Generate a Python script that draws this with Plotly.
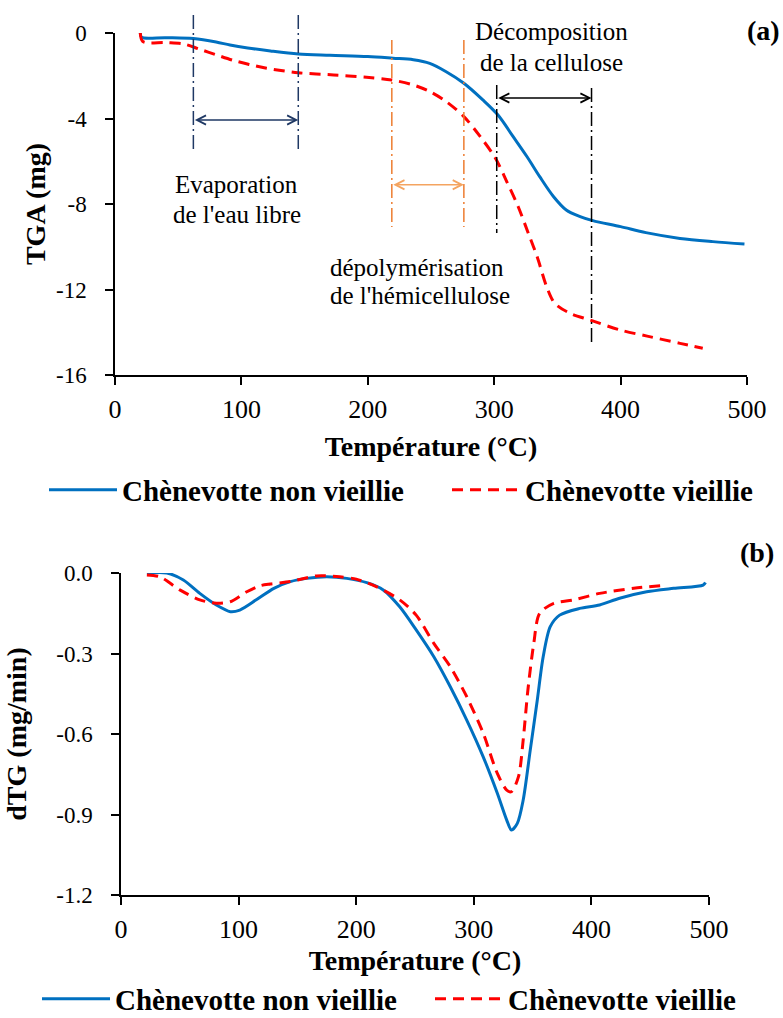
import plotly.graph_objects as go

# ---------------- data ----------------
T_tga_nv = [20, 21, 40, 62, 80, 91, 105, 123, 145, 170, 200, 220, 236, 249, 262, 276, 291, 303, 315, 326, 336, 347, 357, 368, 378, 400, 420, 447, 473, 498]
tga_nv = [0.0, -0.2, -0.22, -0.26, -0.42, -0.56, -0.7, -0.84, -0.98, -1.04, -1.1, -1.18, -1.25, -1.42, -1.81, -2.35, -3.13, -3.84, -4.85, -5.79, -6.72, -7.66, -8.28, -8.59, -8.78, -9.06, -9.34, -9.61, -9.76, -9.87]

T_tga_v = [20, 22, 40, 54, 67, 80, 94, 107, 120, 145, 173, 199, 219, 236, 249, 262, 276, 289, 301, 310, 319, 327, 334, 341.5, 348, 360, 376, 400, 421, 447, 465]
tga_v = [0.0, -0.4, -0.45, -0.51, -0.76, -1.02, -1.29, -1.48, -1.65, -1.86, -1.96, -2.07, -2.2, -2.43, -2.74, -3.21, -3.91, -4.85, -5.86, -6.96, -8.13, -9.37, -10.47, -11.87, -12.65, -13.11, -13.43, -13.9, -14.18, -14.52, -14.75]

T_dtg_nv = [22, 39, 53, 67, 81, 93, 101, 115, 130, 144, 158, 175, 192, 209, 223, 237, 251, 266, 280, 294, 308, 320, 328, 332, 337, 342, 348, 354, 359, 365, 373, 390, 407, 424, 447, 470, 495, 497]
dtg_nv = [0.0, 0.0, -0.026, -0.076, -0.119, -0.144, -0.138, -0.1, -0.057, -0.032, -0.02, -0.014, -0.02, -0.036, -0.063, -0.126, -0.212, -0.312, -0.424, -0.548, -0.685, -0.821, -0.921, -0.958, -0.933, -0.846, -0.66, -0.473, -0.312, -0.2, -0.157, -0.132, -0.119, -0.094, -0.07, -0.057, -0.045, -0.035]

T_dtg_v = [22, 33, 50, 67, 81, 93, 107, 118, 127, 144, 166, 186, 200, 217, 237, 251, 266, 280, 294, 308, 320, 328, 332, 338, 342, 346, 351, 356, 368, 385, 407, 436, 464]
dtg_v = [-0.007, -0.014, -0.063, -0.1, -0.113, -0.107, -0.07, -0.048, -0.041, -0.032, -0.011, -0.014, -0.023, -0.051, -0.1, -0.157, -0.262, -0.349, -0.461, -0.597, -0.747, -0.809, -0.815, -0.759, -0.622, -0.436, -0.262, -0.15, -0.113, -0.1, -0.076, -0.057, -0.045]

series_names = ["Chènevotte non vieillie", "Chènevotte vieillie"]

x_ticks = [0, 100, 200, 300, 400, 500]
x_ticktext = ["0", "100", "200", "300", "400", "500"]
tga_ticks = [0, -4, -8, -12, -16]
tga_ticktext = ["0", "-4", "-8", "-12", "-16"]
dtg_ticks = [0.0, -0.3, -0.6, -0.9, -1.2]
dtg_ticktext = ["0.0", "-0.3", "-0.6", "-0.9", "-1.2"]

# annotation guides in data units (temperature, TGA span)
evap_T = [62, 145]
evap_span = [0.84, -5.57]
evap_arrow_y = -4.07
hemi_T = [219, 276]
hemi_span = [-0.33, -9.08]
hemi_arrow_y = -7.1
cell_T = [302, 377]
cell_spans = [[-2.43, -9.36], [-2.57, -14.5]]
cell_arrow_y = -3.04

TGA_RANGE = [-16, 0]
DTG_RANGE = [-1.2, 0]

# ---------------- styling ----------------
FONT = "Liberation Serif"
BLUE = "#0070C0"
RED = "#FF0000"
NAVY = "#1F3864"
ORANGE = "#ED7D31"
ORANGE_L = "#F4A460"
RED_DASH = "11px,7px"
GUIDE_DASH = "14px,4px,2px,4px"

W, H = 783, 1018

fig = go.Figure()

fig.add_trace(go.Scatter(x=T_tga_nv, y=tga_nv, mode="lines", name=series_names[0],
                         line=dict(color=BLUE, width=3, shape="spline", smoothing=0.9),
                         xaxis="x", yaxis="y", legend="legend"))
fig.add_trace(go.Scatter(x=T_tga_v, y=tga_v, mode="lines", name=series_names[1],
                         line=dict(color=RED, width=3, dash=RED_DASH, shape="spline", smoothing=0.9),
                         xaxis="x", yaxis="y", legend="legend2"))
fig.add_trace(go.Scatter(x=T_dtg_nv, y=dtg_nv, mode="lines", name=series_names[0],
                         line=dict(color=BLUE, width=3, shape="spline", smoothing=0.8),
                         xaxis="x2", yaxis="y2", legend="legend3"))
fig.add_trace(go.Scatter(x=T_dtg_v, y=dtg_v, mode="lines", name=series_names[1],
                         line=dict(color=RED, width=3, dash=RED_DASH, shape="spline", smoothing=0.8),
                         xaxis="x2", yaxis="y2", legend="legend4"))


def ydom(v):
    return (v - TGA_RANGE[0]) / (TGA_RANGE[1] - TGA_RANGE[0])


def vguide(t, span, color):
    fig.add_shape(type="line", xref="x", yref="y domain", x0=t, x1=t,
                  y0=ydom(span[0]), y1=ydom(span[1]),
                  line=dict(color=color, width=1.5, dash=GUIDE_DASH))


for t in evap_T:
    vguide(t, evap_span, NAVY)
for t in hemi_T:
    vguide(t, hemi_span, ORANGE)
for t, sp in zip(cell_T, cell_spans):
    vguide(t, sp, "black")


def darrow(t0, t1, y, color):
    fig.add_annotation(x=t1, y=y, ax=t0, ay=y, xref="x", yref="y", axref="x", ayref="y",
                       text="", showarrow=True, arrowhead=5, startarrowhead=5,
                       arrowside="end+start", arrowsize=1.2, arrowwidth=1.5,
                       arrowcolor=color, standoff=0, startstandoff=0)


darrow(evap_T[0], evap_T[1], evap_arrow_y, NAVY)
darrow(hemi_T[0], hemi_T[1], hemi_arrow_y, ORANGE_L)
darrow(cell_T[0], cell_T[1], cell_arrow_y, "black")

txt_font = dict(family=FONT, size=25, color="black")
text_lines = [
    ("Evaporation", 96.5, -7.11),
    ("de l'eau libre", 96.5, -8.47),
    ("dépolymérisation", 239, -10.99),
    ("de l'hémicellulose", 241, -12.26),
    ("Décomposition", 345, 0.05),
    ("de la cellulose", 345, -1.36),
]
for txt, tx, ty in text_lines:
    fig.add_annotation(x=tx, y=ydom(ty), xref="x", yref="y domain", text=txt, showarrow=False,
                       font=txt_font, align="center", xanchor="center", yanchor="middle")

fig.add_annotation(x=763 / W, y=1 - 31 / H, xref="paper", yref="paper", text="<b>(a)</b>",
                   showarrow=False, xanchor="center", yanchor="middle",
                   font=dict(family=FONT, size=28, color="black"))
fig.add_annotation(x=757 / W, y=1 - 552 / H, xref="paper", yref="paper", text="<b>(b)</b>",
                   showarrow=False, xanchor="center", yanchor="middle",
                   font=dict(family=FONT, size=28, color="black"))

axis_common = dict(showline=True, linecolor="black", linewidth=1.5, ticks="outside", ticklen=8,
                   tickwidth=1.5, tickcolor="black", showgrid=False, zeroline=False)
title_font = dict(family=FONT, size=28, color="black", weight="bold")
leg_font = dict(family=FONT, size=29, color="black", weight="bold")


def leg(x, y):
    return dict(orientation="h", x=x / W, y=1 - y / H, xanchor="left", yanchor="middle",
                font=leg_font, itemwidth=68, bgcolor="rgba(0,0,0,0)", borderwidth=0)


fig.update_layout(
    width=W, height=H, margin=dict(l=0, r=0, t=0, b=0, autoexpand=False),
    paper_bgcolor="white", plot_bgcolor="white",
    font=dict(family=FONT, color="black"),
    xaxis=dict(domain=[115 / W, 747 / W], range=[0, 500], anchor="y",
               tickvals=x_ticks, ticktext=x_ticktext, tickfont=dict(family=FONT, size=26),
               ticklabelstandoff=2,
               title=dict(text="Température (°C)", font=title_font, standoff=13), **axis_common),
    yaxis=dict(domain=[1 - 375 / H, 1 - 33 / H], range=TGA_RANGE, anchor="x",
               tickvals=tga_ticks, ticktext=tga_ticktext, tickfont=dict(family=FONT, size=23),
               ticklabelstandoff=14,
               title=dict(text="TGA (mg)", font=title_font, standoff=2), **axis_common),
    xaxis2=dict(domain=[121 / W, 709 / W], range=[0, 500], anchor="y2",
                tickvals=x_ticks, ticktext=x_ticktext, tickfont=dict(family=FONT, size=26),
                ticklabelstandoff=2,
                title=dict(text="Température (°C)", font=title_font, standoff=7), **axis_common),
    yaxis2=dict(domain=[1 - 895 / H, 1 - 573 / H], range=DTG_RANGE, anchor="x2",
                tickvals=dtg_ticks, ticktext=dtg_ticktext, tickfont=dict(family=FONT, size=23),
                ticklabelstandoff=14,
                title=dict(text="dTG (mg/min)", font=title_font, standoff=21), **axis_common),
    legend=leg(44, 490),
    legend2=leg(447, 490),
    legend3=leg(37, 999),
    legend4=leg(430, 999),
    showlegend=True,
)

fig.write_html("out.html", config={"displayModeBar": False},
               post_script="document.body.style.margin='0px';")
